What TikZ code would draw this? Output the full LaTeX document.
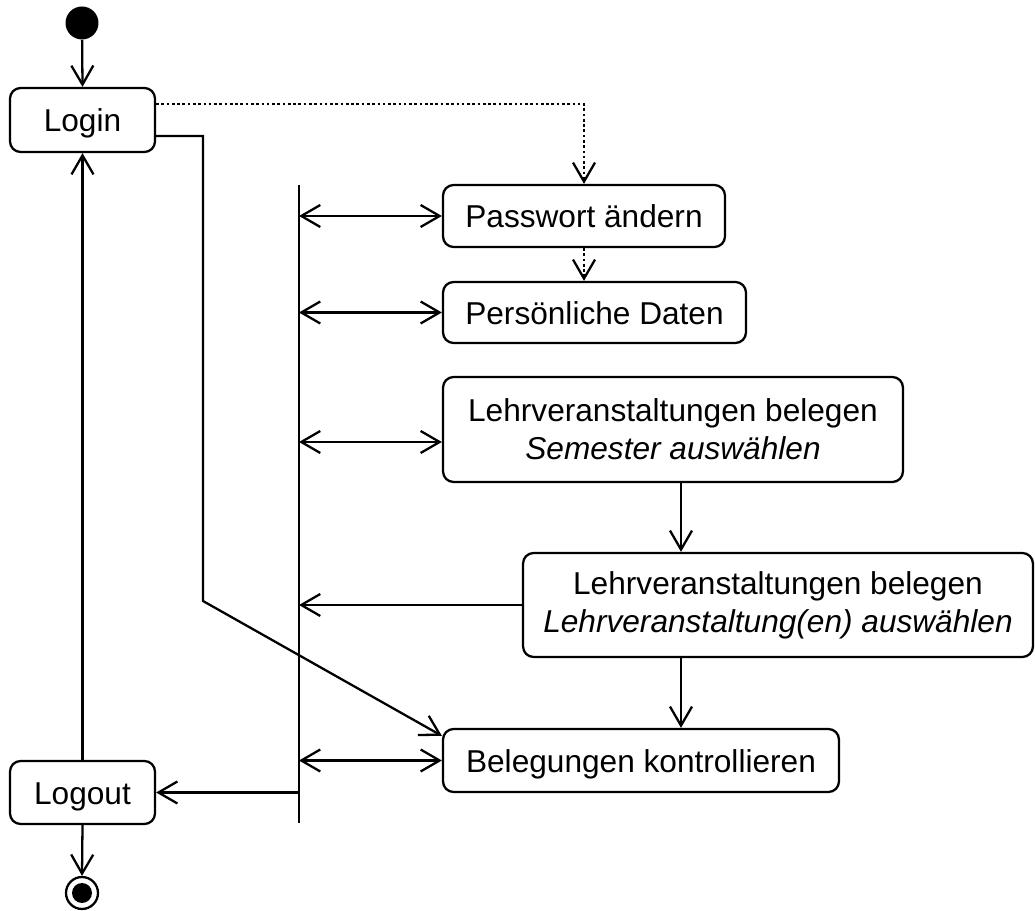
\documentclass[tikz,border=0pt]{standalone}
\usepackage{fontspec}
\setmainfont{Liberation Sans}
\usetikzlibrary{arrows.meta, positioning}

\begin{document}
\begin{tikzpicture}[
  x=0.02cm, y=-0.02cm,
  act/.style={rectangle, draw=black, line width=1.3pt, rounded corners=6pt,
    align=center, font=\fontsize{18}{21.5}\selectfont, inner sep=0pt},
  oneline/.style={text height=13.1pt, text depth=0pt},
  flow/.style={-{Straight Barb[length=3.8mm, width=4.4mm]}, line width=1.3pt},
  both/.style={{Straight Barb[length=3.8mm, width=4.4mm]}-{Straight Barb[length=3.8mm, width=4.4mm]}, line width=1.3pt},
  hint/.style={flow, dash pattern=on 1.5pt off 1.5pt}
]
\useasboundingbox (0,0) rectangle (1035,911);
\node[circle, fill=black, inner sep=0pt, minimum size=0.66cm] (start) at (82,23) {};
\node[act, oneline, minimum width=2.9cm, minimum height=1.28cm] (login) at (82.5,120) {Login};
\node[act, oneline, minimum width=2.9cm, minimum height=1.26cm] (logout) at (82.5,792.5) {Logout};
\node[circle, draw=black, line width=1.3pt, inner sep=0pt, minimum size=0.64cm] (end) at (82,893) {};
\node[circle, fill=black, inner sep=0pt, minimum size=0.4cm] (endin) at (end) {};
\node[fill=black, inner sep=0pt, minimum width=1.3pt, minimum height=12.76cm] (bar) at (299,504) {};
\node[act, oneline, minimum width=5.64cm, minimum height=1.24cm] (pw) at (584,216) {Passwort ändern};
\node[act, oneline, minimum width=6.06cm, minimum height=1.22cm] (pd) at (594.5,312.5) {Persönliche Daten};
\node[act, minimum width=9.2cm, minimum height=2.1cm] (sem) at (673,429.5)
  {Lehrveranstaltungen belegen\\\textit{Semester auswählen}};
\node[act, minimum width=10.2cm, minimum height=2.08cm] (lv) at (778,605)
  {Lehrveranstaltungen belegen\\\textit{Lehrveranstaltung(en) auswählen}};
\node[act, oneline, minimum width=7.92cm, minimum height=1.26cm] (bel) at (641,760.5) {Belegungen kontrollieren};
\coordinate (col) at (681,0);
\coordinate (bend) at (203,601);
\coordinate (semin) at ([yshift=-0.25cm]sem.west);

% Login / Logout
\draw[flow] (start) -- (login.north);
\draw[flow] (logout.north) -- (login.south);
\draw[flow] (logout.south) -- (end.north);
\draw[flow] (bar |- logout.east) -- (logout.east);
\draw[flow] ([yshift=-0.32cm]login.east) -| (bend) -- ([yshift=-0.16cm]bel.north west);
\draw[hint] ([yshift=0.32cm]login.east) -| (pw.north);
\draw[hint] (pw.south) -- (pw.south |- pd.north);

% Fork
\draw[both] (bar |- pw.west) -- (pw.west);
\draw[both] (bar |- pd.west) -- (pd.west);
\draw[both] (bar |- semin) -- (semin);
\draw[flow] (lv.west) -- (bar |- lv.west);
\draw[both] (bar |- bel.west) -- (bel.west);

% Belegung
\draw[flow] (col |- sem.south) -- (col |- lv.north);
\draw[flow] (col |- lv.south) -- (col |- bel.north);
\end{tikzpicture}
\end{document}
